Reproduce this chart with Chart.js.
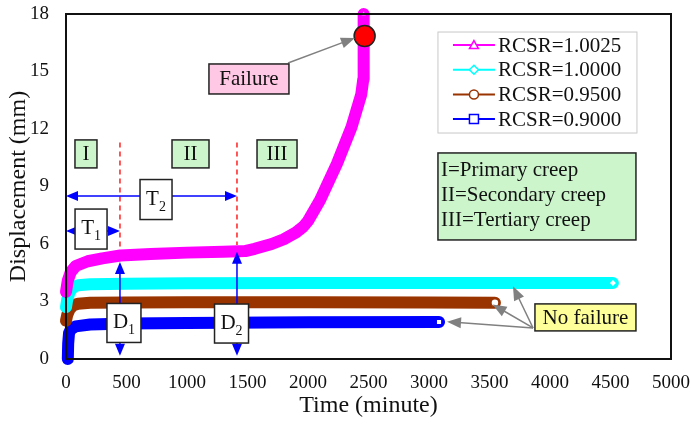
<!DOCTYPE html>
<html>
<head>
<meta charset="utf-8">
<script src="https://cdn.jsdelivr.net/npm/chart.js@4/dist/chart.umd.min.js"></script>
<style>
  html, body { margin: 0; padding: 0; background: #fff; }
</style>
</head>
<body>
<canvas id="chart" width="691" height="424"></canvas>
<script>
(function () {
  "use strict";

  // ---- data ----
  const SERIES_NAMES = ["RCSR=1.0025", "RCSR=1.0000", "RCSR=0.9500", "RCSR=0.9000"];
  const X_TICKS = [0, 500, 1000, 1500, 2000, 2500, 3000, 3500, 4000, 4500, 5000];
  const Y_TICKS = [0, 3, 6, 9, 12, 15, 18];

  const T_10025 = [0, 15, 40, 80, 180, 300, 450, 700, 1000, 1300, 1480, 1560, 1700, 1800, 1900, 1960, 2000, 2100, 2240, 2360, 2440, 2457, 2460];
  const D_10025 = [3.5, 4.1, 4.55, 4.85, 5.1, 5.25, 5.4, 5.48, 5.55, 5.6, 5.63, 5.75, 6.0, 6.25, 6.6, 6.9, 7.2, 8.3, 10.2, 12.1, 13.8, 14.6, 18.0];

  const T_10000 = [0, 10, 30, 60, 100, 200, 500, 1000, 2000, 3000, 4000, 4520];
  const D_10000 = [2.7, 3.1, 3.5, 3.75, 3.85, 3.9, 3.93, 3.95, 3.96, 3.96, 3.96, 3.97];

  const T_09500 = [0, 10, 30, 60, 100, 200, 500, 1000, 2000, 3000, 3545];
  const D_09500 = [2.0, 2.3, 2.6, 2.8, 2.88, 2.93, 2.95, 2.96, 2.96, 2.95, 2.94];

  const T_09000 = [15, 18, 25, 40, 80, 200, 500, 1000, 2000, 3083];
  const D_09000 = [0, 0.8, 1.35, 1.55, 1.7, 1.8, 1.85, 1.88, 1.92, 1.93];

  const FAILURE_T = [2468];
  const FAILURE_D = [16.85];

  const COLORS = ["#ff00ff", "#00ffff", "#993300", "#0000ff"];
  const STYLES = ["triangle", "rectRot", "circle", "rect"];
  const FONT = '"Liberation Serif", "Times New Roman", serif';

  // annotation anchors in data units (time, displacement)
  const STAGE_LABELS = [["I", 165, 10.7, 22], ["II", 1029, 10.7, 37], ["III", 1744, 10.7, 40]];
  const STAGE_LINES = [[446, 11.3, 5.75], [1413, 11.3, 5.95]];
  const T_ARROWS = [["T", "1", 0, 446, 6.68, 207, 6.78], ["T", "2", 0, 1413, 8.5, 744, 8.32]];
  const D_ARROWS = [["D", "1", 446, 0.17, 5.06, 479, 1.88], ["D", "2", 1413, 0.17, 5.6, 1368, 1.85]];
  const FAILURE_NOTE = { text: "Failure", t: 1512, d: 14.61, from: [1835, 15.44], to: [2388, 16.75] };
  const NOFAIL_NOTE = { text: "No failure", t: 4293, d: 2.17, from: [3860, 1.62], tips: [[3694, 3.8], [3525, 2.85], [3149, 1.95]] };
  const KEY_LINES = ["I=Primary creep", "II=Secondary creep", "III=Tertiary creep"];

  function pts(T, D) { return T.map((t, i) => ({ x: t, y: D[i] })); }

  function series(idx, T, D) {
    const last = T.length - 1;
    return {
      label: SERIES_NAMES[idx], data: pts(T, D), showLine: true,
      borderColor: COLORS[idx], borderWidth: 12, borderCapStyle: "round", borderJoinStyle: "round",
      tension: 0, pointStyle: STYLES[idx],
      pointRadius: (c) => (c.dataIndex === last ? 4 : 0),
      pointHoverRadius: 0,
      pointBackgroundColor: "#fff", pointBorderColor: COLORS[idx], pointBorderWidth: 1.5,
      clip: 10,
    };
  }

  function head(ctx, x1, y1, x2, y2, len, wid, color) {
    const a = Math.atan2(y2 - y1, x2 - x1);
    ctx.save();
    ctx.translate(x2, y2);
    ctx.rotate(a);
    ctx.beginPath();
    ctx.moveTo(0, 0);
    ctx.lineTo(-len, wid / 2);
    ctx.lineTo(-len, -wid / 2);
    ctx.closePath();
    ctx.fillStyle = color;
    ctx.fill();
    ctx.restore();
  }

  function arrow(ctx, x1, y1, x2, y2, color, lw, both, len, wid) {
    const a = Math.atan2(y2 - y1, x2 - x1);
    ctx.save();
    ctx.strokeStyle = color;
    ctx.lineWidth = lw;
    ctx.beginPath();
    ctx.moveTo(x1 + (both ? Math.cos(a) * len * 0.8 : 0), y1 + (both ? Math.sin(a) * len * 0.8 : 0));
    ctx.lineTo(x2 - Math.cos(a) * len * 0.8, y2 - Math.sin(a) * len * 0.8);
    ctx.stroke();
    ctx.restore();
    head(ctx, x1, y1, x2, y2, len, wid, color);
    if (both) head(ctx, x2, y2, x1, y1, len, wid, color);
  }

  function box(ctx, cx, cy, w, h, fill) {
    ctx.save();
    ctx.fillStyle = fill;
    ctx.fillRect(cx - w / 2, cy - h / 2, w, h);
    ctx.strokeStyle = "#222";
    ctx.lineWidth = 1.5;
    ctx.strokeRect(cx - w / 2, cy - h / 2, w, h);
    ctx.restore();
  }

  function text(ctx, s, x, y, align, size) {
    ctx.save();
    ctx.font = (size || 21) + "px " + FONT;
    ctx.fillStyle = "#111";
    ctx.textAlign = align || "center";
    ctx.textBaseline = "middle";
    ctx.fillText(s, x, y + 1);
    ctx.restore();
  }

  function subLabel(ctx, main, sub, cx, cy) {
    ctx.save();
    ctx.fillStyle = "#111";
    ctx.textBaseline = "alphabetic";
    ctx.font = "21px " + FONT;
    const wm = ctx.measureText(main).width;
    ctx.font = "14px " + FONT;
    const ws = ctx.measureText(sub).width;
    const x0 = cx - (wm + ws) / 2;
    ctx.font = "21px " + FONT;
    ctx.fillText(main, x0, cy + 5);
    ctx.font = "14px " + FONT;
    ctx.fillText(sub, x0 + wm, cy + 11);
    ctx.restore();
  }

  function marker(ctx, style, x, y, r, color) {
    ctx.save();
    ctx.fillStyle = "#fff";
    ctx.strokeStyle = color;
    ctx.lineWidth = 1.5;
    ctx.beginPath();
    if (style === "triangle") {
      ctx.moveTo(x, y - r); ctx.lineTo(x + r, y + r * 0.8); ctx.lineTo(x - r, y + r * 0.8); ctx.closePath();
    } else if (style === "rectRot") {
      ctx.moveTo(x, y - r); ctx.lineTo(x + r, y); ctx.lineTo(x, y + r); ctx.lineTo(x - r, y); ctx.closePath();
    } else if (style === "circle") {
      ctx.arc(x, y, r, 0, Math.PI * 2);
    } else {
      ctx.rect(x - r, y - r, 2 * r, 2 * r);
    }
    ctx.fill();
    ctx.stroke();
    ctx.restore();
  }

  const annotations = {
    id: "annotations",
    afterDatasetsDraw(chart) {
      const ctx = chart.ctx;
      const X = (t) => chart.scales.x.getPixelForValue(t);
      const Y = (d) => chart.scales.y.getPixelForValue(d);
      const area = chart.chartArea;

      // frame top and right
      ctx.save();
      ctx.strokeStyle = "#111";
      ctx.lineWidth = 2;
      ctx.strokeRect(area.left, area.top, area.right - area.left, area.bottom - area.top);
      ctx.restore();

      // stage boundaries
      ctx.save();
      ctx.strokeStyle = "#ff2020";
      ctx.lineWidth = 1.5;
      ctx.setLineDash([5, 4]);
      STAGE_LINES.forEach(([t, d1, d2]) => {
        ctx.beginPath();
        ctx.moveTo(X(t), Y(d1));
        ctx.lineTo(X(t), Y(d2));
        ctx.stroke();
      });
      ctx.restore();

      // T and D arrows
      T_ARROWS.forEach(([m, s, t1, t2, d, bt, bd]) => {
        arrow(ctx, X(t1), Y(d), X(t2), Y(d), "#0000ff", 1.5, true, 12, 10);
      });
      D_ARROWS.forEach(([m, s, t, d1, d2, bt, bd]) => {
        arrow(ctx, X(t), Y(d1), X(t), Y(d2), "#0000ff", 1.5, true, 12, 10);
      });
      T_ARROWS.forEach(([m, s, t1, t2, d, bt, bd]) => {
        box(ctx, X(bt), Y(bd), 32, 40, "#fff");
        subLabel(ctx, m, s, X(bt), Y(bd));
      });
      D_ARROWS.forEach(([m, s, t, d1, d2, bt, bd]) => {
        box(ctx, X(bt), Y(bd), 34, 39, "#fff");
        subLabel(ctx, m, s, X(bt), Y(bd));
      });

      // stage labels
      STAGE_LABELS.forEach(([s, t, d, w]) => {
        box(ctx, X(t), Y(d), w, 28, "#ccf5cc");
        text(ctx, s, X(t), Y(d));
      });

      // failure note
      arrow(ctx, X(FAILURE_NOTE.from[0]), Y(FAILURE_NOTE.from[1]), X(FAILURE_NOTE.to[0]), Y(FAILURE_NOTE.to[1]), "#808080", 1.5, false, 14, 11);
      box(ctx, X(FAILURE_NOTE.t), Y(FAILURE_NOTE.d), 80, 30, "#ffc8e4");
      text(ctx, FAILURE_NOTE.text, X(FAILURE_NOTE.t), Y(FAILURE_NOTE.d));

      // no failure note
      NOFAIL_NOTE.tips.forEach(([t, d]) => {
        arrow(ctx, X(NOFAIL_NOTE.from[0]), Y(NOFAIL_NOTE.from[1]), X(t), Y(d), "#808080", 1.5, false, 14, 11);
      });
      box(ctx, X(NOFAIL_NOTE.t), Y(NOFAIL_NOTE.d), 101, 27, "#ffff99");
      text(ctx, NOFAIL_NOTE.text, X(NOFAIL_NOTE.t), Y(NOFAIL_NOTE.d));

      // creep stage key
      const kx = X(3074), ky = Y(10.75);
      box(ctx, kx + 99, ky + 43.5, 198, 87, "#ccf5cc");
      KEY_LINES.forEach((s, i) => text(ctx, s, kx + 3, ky + 17 + i * 25, "left"));

      // legend
      const lx = X(3074), ly = Y(17.06);
      ctx.save();
      ctx.fillStyle = "#fff";
      ctx.fillRect(lx, ly, 199, 101);
      ctx.strokeStyle = "#c8c8c8";
      ctx.lineWidth = 1;
      ctx.strokeRect(lx, ly, 199, 101);
      ctx.restore();
      SERIES_NAMES.forEach((name, i) => {
        const y = ly + 13 + i * 24.7;
        ctx.save();
        ctx.strokeStyle = COLORS[i];
        ctx.lineWidth = 2;
        ctx.beginPath();
        ctx.moveTo(lx + 15, y);
        ctx.lineTo(lx + 57, y);
        ctx.stroke();
        ctx.restore();
        marker(ctx, STYLES[i], lx + 36, y, 4.5, COLORS[i]);
        text(ctx, name, lx + 60, y, "left");
      });
    },
  };

  Chart.defaults.font.family = FONT;
  Chart.defaults.color = "#111";

  new Chart(document.getElementById("chart").getContext("2d"), {
    type: "scatter",
    data: {
      datasets: [
        {
          label: "failure", data: pts(FAILURE_T, FAILURE_D), pointRadius: 10.5, pointHoverRadius: 10.5,
          pointBackgroundColor: "#ff0000", pointBorderColor: "#222", pointBorderWidth: 1.5, clip: 12,
        },
        series(0, T_10025, D_10025),
        series(1, T_10000, D_10000),
        series(2, T_09500, D_09500),
        series(3, T_09000, D_09000),
      ],
    },
    options: {
      responsive: false, animation: false, devicePixelRatio: 1,
      layout: { padding: { left: 0, right: 20, top: 14, bottom: 0 } },
      scales: {
        x: {
          type: "linear", min: 0, max: 5000,
          afterBuildTicks: (s) => { s.ticks = X_TICKS.map((v) => ({ value: v })); },
          afterFit: (s) => { s.height = 65; s.paddingLeft = 0; s.paddingRight = 0; },
          grid: { display: false },
          border: { display: true, color: "#111", width: 2 },
          ticks: { font: { size: 19 }, color: "#111", padding: 5, maxRotation: 0, callback: (v) => String(v) },
          title: { display: true, text: "Time (minute)", font: { size: 24 }, color: "#111", padding: { top: 0, bottom: 4 } },
        },
        y: {
          type: "linear", min: 0, max: 18,
          afterBuildTicks: (s) => { s.ticks = Y_TICKS.map((v) => ({ value: v })); },
          afterFit: (s) => { s.width = 66; s.paddingTop = 0; s.paddingBottom = 0; },
          grid: { display: false },
          border: { display: true, color: "#111", width: 2 },
          ticks: { font: { size: 19 }, color: "#111", padding: 9, callback: (v) => String(v) },
          title: { display: true, text: "Displacement (mm)", font: { size: 24 }, color: "#111", padding: { top: 4, bottom: 0 } },
        },
      },
      plugins: { legend: { display: false }, tooltip: { enabled: false } },
    },
    plugins: [annotations],
  });
})();
</script>
</body>
</html>
